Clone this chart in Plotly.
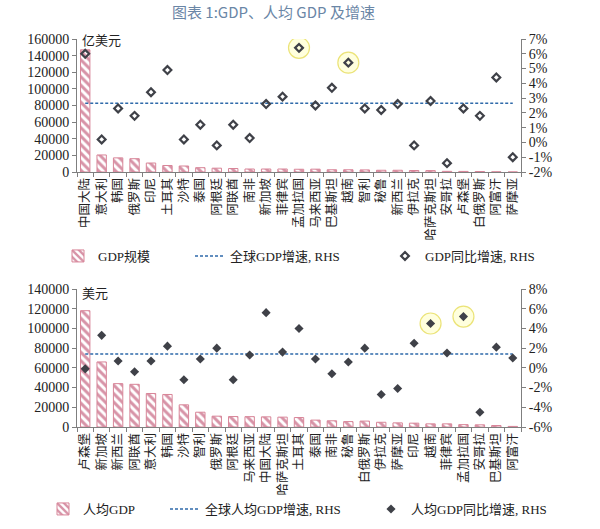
import plotly.graph_objects as go

# -----------------------------------------------------
# Data
# -----------------------------------------------------

gdp_countries = [
    "中国大陆", "意大利", "韩国", "俄罗斯", "印尼", "土耳其", "沙特", "泰国", "阿根廷",
    "阿联酋", "南非", "新加坡", "菲律宾", "孟加拉国", "马来西亚", "巴基斯坦", "越南",
    "智利", "秘鲁", "新西兰", "伊拉克", "哈萨克斯坦", "安哥拉", "卢森堡", "白俄罗斯",
    "阿富汗", "萨摩亚",
]
gdp_values = [
    147000, 20500, 17000, 16000, 10800, 7800, 7200, 5200, 4600,
    4200, 3600, 3600, 3600, 3300, 3400, 2700, 2700,
    2500, 2100, 2100, 1800, 1700, 800, 700, 600,
    200, 10,
]
gdp_growth = [
    6.0, 0.2, 2.3, 1.8, 3.4, 4.9, 0.2, 1.2, -0.2,
    1.2, 0.3, 2.6, 3.1, 6.4, 2.5, 3.7, 5.4,
    2.3, 2.2, 2.6, -0.2, 2.8, -1.4, 2.3, 1.8,
    4.4, -1.0,
]
world_gdp_growth = 2.65

pc_countries = [
    "卢森堡", "新加坡", "新西兰", "阿联酋", "意大利", "韩国", "沙特", "智利", "俄罗斯",
    "阿根廷", "马来西亚", "中国大陆", "哈萨克斯坦", "土耳其", "泰国", "南非", "秘鲁",
    "白俄罗斯", "伊拉克", "萨摩亚", "印尼", "越南", "菲律宾", "孟加拉国", "安哥拉",
    "巴基斯坦", "阿富汗",
]
pc_values = [
    118000, 66000, 44000, 43300, 34000, 33000, 22500, 15000, 11000,
    10600, 10500, 10300, 10000, 9600, 7000, 6300, 5500,
    6000, 4800, 4200, 3900, 3200, 3200, 2400, 2200,
    1500, 600,
]
pc_growth = [
    -0.1, 3.3, 0.7, -0.4, 0.7, 2.2, -1.2, 0.9, 2.0,
    -1.2, 1.3, 5.6, 1.6, 4.0, 0.9, -0.6, 0.6,
    2.0, -2.7, -2.1, 2.5, 4.5, 1.5, 5.2, -4.5,
    2.1, 1.0,
]
world_pc_growth = 1.4

highlighted = ["孟加拉国", "越南"]

top_left_ticks = [0, 20000, 40000, 60000, 80000, 100000, 120000, 140000, 160000]
top_right_ticks = [-2, -1, 0, 1, 2, 3, 4, 5, 6, 7]
bottom_left_ticks = [0, 20000, 40000, 60000, 80000, 100000, 120000, 140000]
bottom_right_ticks = [-6, -4, -2, 0, 2, 4, 6, 8]

# -----------------------------------------------------
# Styles
# -----------------------------------------------------

SERIF = "Liberation Serif, Noto Sans CJK SC, serif"
CJK = "Noto Sans CJK SC, sans-serif"
STRIPE = "#b0284f"
BAR_EDGE = "#d88598"
DOT_BLUE = "#2f6aaa"
DIAMOND = "#3f4148"
AXIS = "#7f7f7f"
TEXT = "#222222"
HALO = dict(size=21, color="rgba(255,255,180,0.45)", line=dict(color="rgba(230,220,90,0.8)", width=1.2))

fig = go.Figure()

# -----------------------------------------------------
# Top chart: GDP
# -----------------------------------------------------

fig.add_bar(
    x=gdp_countries, y=gdp_values, xaxis="x", yaxis="y", name="GDP规模",
    marker=dict(color="white", line=dict(color=BAR_EDGE, width=1),
                pattern=dict(shape="\\", fgcolor=STRIPE, bgcolor="white", size=6, solidity=0.5)),
    legend="legend",
)
fig.add_scatter(
    x=gdp_countries, y=[world_gdp_growth] * len(gdp_countries), xaxis="x", yaxis="y2",
    mode="lines", name="全球GDP增速, RHS",
    line=dict(color=DOT_BLUE, width=1.5, dash="3px,2px"), legend="legend2",
)
fig.add_scatter(
    x=highlighted, y=[gdp_growth[gdp_countries.index(c)] for c in highlighted],
    xaxis="x", yaxis="y2", mode="markers", showlegend=False, hoverinfo="skip", marker=HALO,
)
fig.add_scatter(
    x=gdp_countries, y=gdp_growth, xaxis="x", yaxis="y2", mode="markers",
    name="GDP同比增速, RHS",
    marker=dict(symbol="diamond-open", size=6, color=DIAMOND, line=dict(width=2.2)),
    legend="legend3",
)

# -----------------------------------------------------
# Bottom chart: GDP per capita
# -----------------------------------------------------

fig.add_bar(
    x=pc_countries, y=pc_values, xaxis="x2", yaxis="y3", name="人均GDP",
    marker=dict(color="white", line=dict(color=BAR_EDGE, width=1),
                pattern=dict(shape="\\", fgcolor=STRIPE, bgcolor="white", size=6, solidity=0.5)),
    legend="legend4",
)
fig.add_scatter(
    x=pc_countries, y=[world_pc_growth] * len(pc_countries), xaxis="x2", yaxis="y4",
    mode="lines", name="全球人均GDP增速, RHS",
    line=dict(color=DOT_BLUE, width=1.5, dash="3px,2px"), legend="legend5",
)
fig.add_scatter(
    x=highlighted, y=[pc_growth[pc_countries.index(c)] for c in highlighted],
    xaxis="x2", yaxis="y4", mode="markers", showlegend=False, hoverinfo="skip", marker=HALO,
)
fig.add_scatter(
    x=pc_countries, y=pc_growth, xaxis="x2", yaxis="y4", mode="markers",
    name="人均GDP同比增速, RHS",
    marker=dict(symbol="diamond", size=7, color=DIAMOND),
    legend="legend6",
)

# -----------------------------------------------------
# Layout
# -----------------------------------------------------

x_dom = [77 / 600, 521 / 600]
top_dom = [1 - 172 / 529, 1 - 39 / 529]
bot_dom = [1 - 427 / 529, 1 - 289 / 529]

common_y = dict(showgrid=False, zeroline=False, showline=True, linecolor=AXIS,
                ticks="outside", ticklen=4, tickcolor=AXIS, automargin=False,
                tickfont=dict(family=SERIF, size=14, color=TEXT))
common_x = dict(type="category", showgrid=False, showline=True, linecolor=AXIS,
                ticks="outside", ticklen=4, tickcolor=AXIS, tickson="boundaries",
                tickangle=-90, tickfont=dict(family=CJK, size=12.5, color=TEXT),
                domain=x_dom, automargin=False)

fig.update_layout(
    width=600, height=529,
    margin=dict(l=0, r=0, t=0, b=0, autoexpand=False),
    paper_bgcolor="white", plot_bgcolor="white",
    bargap=0.43,
    font=dict(family=SERIF, color=TEXT),
    xaxis=dict(anchor="y", range=[-0.5, len(gdp_countries) - 0.5], **common_x),
    yaxis=dict(anchor="x", domain=top_dom, range=[0, 160000],
               tickvals=top_left_ticks, ticktext=[str(v) for v in top_left_ticks], **common_y),
    yaxis2=dict(anchor="x", overlaying="y", side="right", range=[-2, 7],
                tickvals=top_right_ticks, ticktext=[f"{v}%" for v in top_right_ticks], **common_y),
    xaxis2=dict(anchor="y3", range=[-0.5, len(pc_countries) - 0.5], **common_x),
    yaxis3=dict(anchor="x2", domain=bot_dom, range=[0, 140000],
                tickvals=bottom_left_ticks, ticktext=[str(v) for v in bottom_left_ticks], **common_y),
    yaxis4=dict(anchor="x2", overlaying="y3", side="right", range=[-6, 8],
                tickvals=bottom_right_ticks, ticktext=[f"{v}%" for v in bottom_right_ticks], **common_y),
)

legend_font = dict(family=SERIF, size=13, color=TEXT)
legend_spots = {
    "legend": (58, 256), "legend2": (190, 256), "legend3": (385, 256),
    "legend4": (43, 509), "legend5": (165, 509), "legend6": (371, 509),
}
for key, (px, py) in legend_spots.items():
    fig.update_layout({key: dict(x=px / 600, y=1 - py / 529, xanchor="left", yanchor="middle",
                                 orientation="h", font=legend_font, bgcolor="rgba(0,0,0,0)")})

fig.add_annotation(text="图表 1:GDP、人均 GDP 及增速", xref="paper", yref="paper",
                   x=273 / 600, y=1 - 12 / 529, yanchor="middle", showarrow=False,
                   font=dict(family=CJK, size=15, color="#6a86a6"))
fig.add_annotation(text="亿美元", xref="paper", yref="paper", x=80 / 600, y=1 - 39 / 529,
                   xanchor="left", yanchor="middle", showarrow=False,
                   font=dict(family=CJK, size=13, color=TEXT))
fig.add_annotation(text="美元", xref="paper", yref="paper", x=80 / 600, y=1 - 292 / 529,
                   xanchor="left", yanchor="middle", showarrow=False,
                   font=dict(family=CJK, size=13, color=TEXT))

# page body has a default margin; drop it so the figure sits at the window corner
fig.write_html("out.html", config={"displayModeBar": False},
               post_script="document.body.style.margin='0';")
